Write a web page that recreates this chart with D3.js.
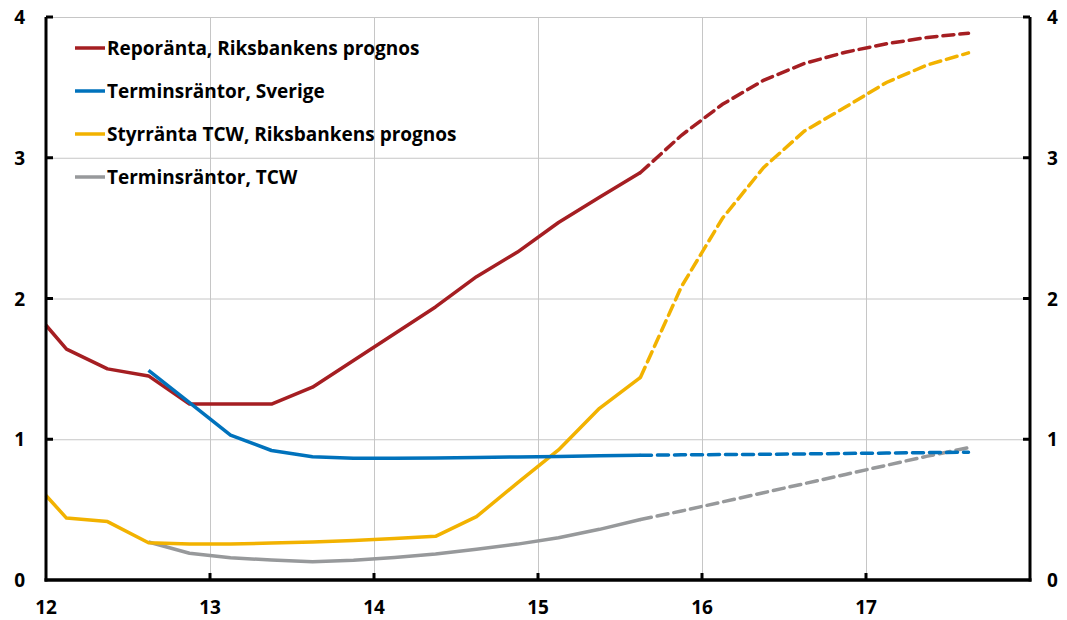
<!DOCTYPE html>
<html>
<head>
<meta charset="utf-8">
<script src="https://cdn.jsdelivr.net/npm/d3@7"></script>
<style>
  body { margin: 0; background: #fff; }
  text { font-family: "Open Sans", "Noto Sans", sans-serif; font-weight: bold; fill: #000; }
  .grid line { stroke: #c6c6c6; stroke-width: 1; }
  .grid path { display: none; }
</style>
</head>
<body>
<script>
// time axis (years, quarter midpoints)
var quarters = [12, 12.125, 12.375, 12.625, 12.875, 13.125, 13.375, 13.625, 13.875, 14.125,
                14.375, 14.625, 14.875, 15.125, 15.375, 15.625, 15.875, 16.125, 16.375, 16.625,
                16.875, 17.125, 17.375, 17.625];
// last outcome index, everything after is forecast (dashed)
var splitAt = 15;

var repo = [1.81, 1.64, 1.50, 1.45, 1.25, 1.25, 1.25, 1.37, 1.56, 1.75,
            1.94, 2.155, 2.33, 2.54, 2.72, 2.895, 3.16, 3.38, 3.55, 3.67,
            3.75, 3.81, 3.855, 3.885];
var terminSverige = [null, null, null, 1.49, 1.26, 1.03, 0.92, 0.876, 0.865, 0.865,
                     0.866, 0.870, 0.874, 0.878, 0.882, 0.886, 0.889, 0.891, 0.893, 0.896,
                     0.899, 0.902, 0.905, 0.908];
var styrTCW = [0.60, 0.44, 0.415, 0.265, 0.255, 0.255, 0.262, 0.27, 0.28, 0.295,
               0.31, 0.45, 0.69, 0.924, 1.22, 1.44, 2.085, 2.57, 2.93, 3.19,
               3.36, 3.535, 3.66, 3.745];
var terminTCW = [null, null, null, 0.27, 0.19, 0.158, 0.142, 0.13, 0.14, 0.16,
                 0.185, 0.218, 0.255, 0.30, 0.36, 0.43, 0.49, 0.555, 0.62, 0.685,
                 0.75, 0.815, 0.88, 0.94];

var seriesNames = ["Reporänta, Riksbankens prognos", "Terminsräntor, Sverige",
                   "Styrränta TCW, Riksbankens prognos", "Terminsräntor, TCW"];
var seriesColors = ["#a51e22", "#0072bc", "#f2b200", "#97999b"];
var xTicks = [12, 13, 14, 15, 16, 17];
var yTicks = [0, 1, 2, 3, 4];

var w = 1067;
var h = 620;
var margins = {left: 46, right: 37, upper: 17, lower: 40};

var svg = d3.select("body")
            .append("svg")
            .attr("width", w)
            .attr("height", h);

var xScale = d3.scaleLinear()
               .domain([12, 18])
               .range([margins.left, w - margins.right]);
var yScale = d3.scaleLinear()
               .domain([0, 4])
               .range([h - margins.lower, margins.upper]);

// gridlines
svg.append("g")
   .attr("class", "grid")
   .attr("transform", "translate(0," + (h - margins.lower) + ")")
   .call(d3.axisBottom(xScale).tickValues([13, 14, 15, 16, 17])
           .tickSize(-(h - margins.lower - margins.upper)).tickFormat(""));
svg.append("g")
   .attr("class", "grid")
   .attr("transform", "translate(" + margins.left + ",0)")
   .call(d3.axisLeft(yScale).tickValues([1, 2, 3, 4])
           .tickSize(-(w - margins.left - margins.right)).tickFormat(""));

// draw one series, solid for outcome and dashed for forecast
var line = d3.line()
             .defined(function(d) { return d.v !== null; })
             .x(function(d) { return xScale(d.q); })
             .y(function(d) { return yScale(d.v); });

function drawSeries(values, color) {
  var pts = quarters.map(function(q, i) { return {q: q, v: values[i]}; });
  svg.append("path")
     .datum(pts.slice(0, splitAt + 1))
     .attr("d", line)
     .attr("fill", "none")
     .attr("stroke", color)
     .attr("stroke-width", 3.5)
     .attr("stroke-linejoin", "round");
  svg.append("path")
     .datum(pts.slice(splitAt))
     .attr("d", line)
     .attr("fill", "none")
     .attr("stroke", color)
     .attr("stroke-width", 3.5)
     .attr("stroke-dasharray", "11,6")
     .attr("stroke-linecap", "round");
}

// gray and yellow under, red and blue on top
drawSeries(terminTCW, seriesColors[3]);
drawSeries(styrTCW, seriesColors[2]);
drawSeries(repo, seriesColors[0]);
drawSeries(terminSverige, seriesColors[1]);

// axes
var axisG = svg.append("g");
axisG.append("line")
     .attr("x1", xScale(12)).attr("x2", xScale(12))
     .attr("y1", yScale(0) + 1.5).attr("y2", yScale(4))
     .attr("stroke", "#000").attr("stroke-width", 3);
axisG.append("line")
     .attr("x1", xScale(18)).attr("x2", xScale(18))
     .attr("y1", yScale(0) + 1.5).attr("y2", yScale(4))
     .attr("stroke", "#000").attr("stroke-width", 3);
axisG.append("line")
     .attr("x1", xScale(12) - 1.5).attr("x2", xScale(18) + 1.5)
     .attr("y1", yScale(0)).attr("y2", yScale(0))
     .attr("stroke", "#000").attr("stroke-width", 3.5);

// tick marks
axisG.selectAll(".xtick")
     .data(xTicks.slice(1))
     .enter()
     .append("line")
     .attr("x1", function(d) { return xScale(d); })
     .attr("x2", function(d) { return xScale(d); })
     .attr("y1", yScale(0))
     .attr("y2", yScale(0) - 7)
     .attr("stroke", "#000").attr("stroke-width", 3);
axisG.selectAll(".ytickl")
     .data(yTicks.slice(1))
     .enter()
     .append("line")
     .attr("x1", xScale(12))
     .attr("x2", xScale(12) + 7)
     .attr("y1", function(d) { return yScale(d); })
     .attr("y2", function(d) { return yScale(d); })
     .attr("stroke", "#000").attr("stroke-width", 3);
axisG.selectAll(".ytickr")
     .data(yTicks.slice(1))
     .enter()
     .append("line")
     .attr("x1", xScale(18))
     .attr("x2", xScale(18) - 7)
     .attr("y1", function(d) { return yScale(d); })
     .attr("y2", function(d) { return yScale(d); })
     .attr("stroke", "#000").attr("stroke-width", 3);

// tick labels
svg.selectAll(".xlab")
   .data(xTicks)
   .enter()
   .append("text")
   .text(function(d) { return d; })
   .attr("x", function(d) { return xScale(d); })
   .attr("y", yScale(0) + 34)
   .attr("text-anchor", "middle")
   .style("font-size", "19px");
svg.selectAll(".ylabl")
   .data(yTicks)
   .enter()
   .append("text")
   .text(function(d) { return d; })
   .attr("x", 25)
   .attr("y", function(d) { return yScale(d) + 7; })
   .attr("text-anchor", "end")
   .style("font-size", "19px");
svg.selectAll(".ylabr")
   .data(yTicks)
   .enter()
   .append("text")
   .text(function(d) { return d; })
   .attr("x", 1047)
   .attr("y", function(d) { return yScale(d) + 7; })
   .attr("text-anchor", "start")
   .style("font-size", "19px");

// legend
var legend = svg.append("g")
                .attr("class", "legend")
                .attr("transform", "translate(75,48)");
seriesNames.forEach(function(name, i) {
  legend.append("line")
        .attr("x1", 0).attr("x2", 30)
        .attr("y1", i * 43).attr("y2", i * 43)
        .attr("stroke", seriesColors[i])
        .attr("stroke-width", 3.5);
  legend.append("text")
        .attr("x", 32)
        .attr("y", i * 43 + 7)
        .style("font-size", "19px")
        .text(name);
});
</script>
</body>
</html>
